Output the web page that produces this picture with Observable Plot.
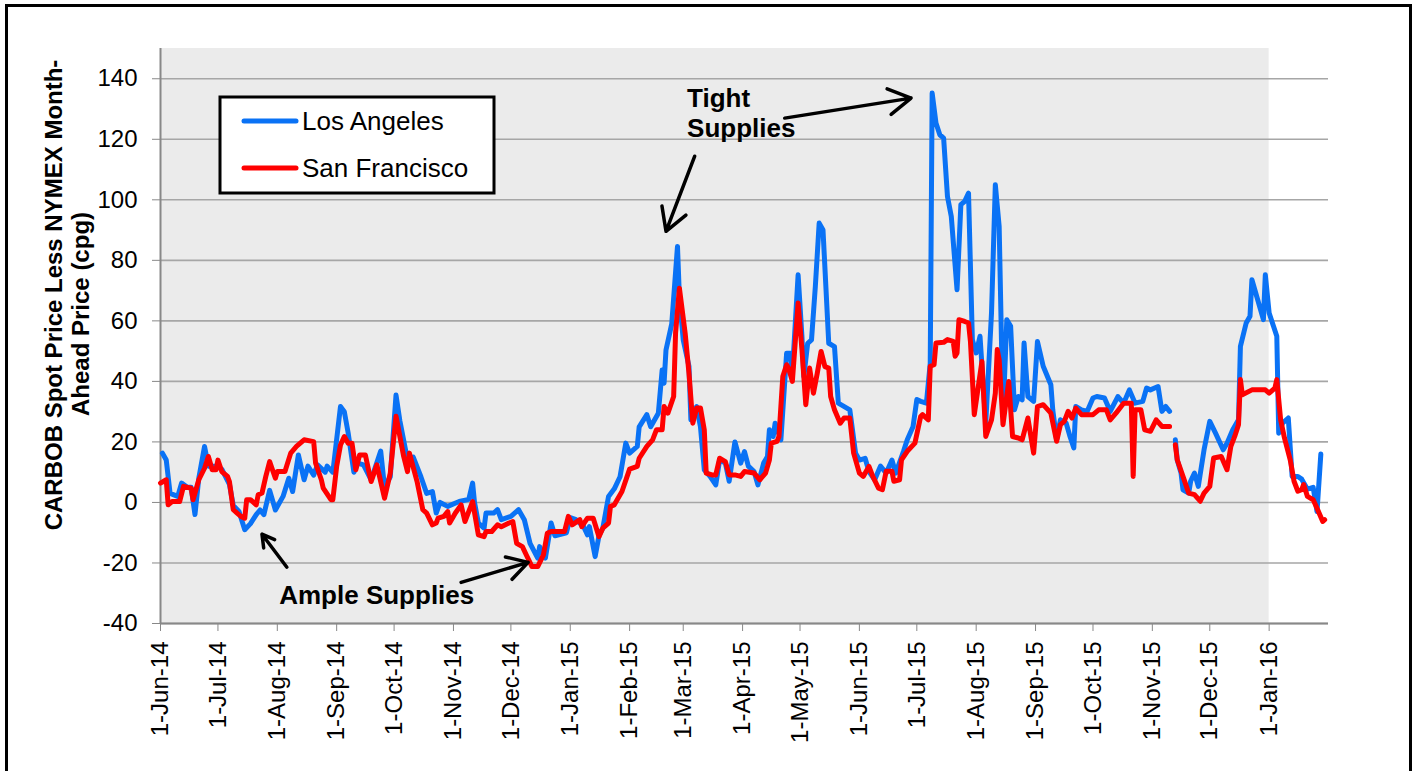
<!DOCTYPE html>
<html><head><meta charset="utf-8">
<script src="https://cdn.jsdelivr.net/npm/d3@7"></script>
<script src="https://cdn.jsdelivr.net/npm/@observablehq/plot@0.6"></script>
<style>
html,body{margin:0;padding:0;background:#fff;overflow:hidden;}
#wrap{position:relative;width:1416px;height:771px;overflow:hidden;font-family:"Liberation Sans",Arial,sans-serif;}
#frame{position:absolute;left:5px;top:4px;width:1407px;height:830px;border:3px solid #000;box-sizing:border-box;pointer-events:none;}
#chart{position:absolute;left:0;top:0;}
</style></head><body>
<div id="wrap"><div id="chart"></div><div id="frame"></div></div>
<script>
// ---- Data ----
const laDates = ["2014-06-02","2014-06-04","2014-06-06","2014-06-10","2014-06-12","2014-06-15","2014-06-17","2014-06-19","2014-06-21","2014-06-24","2014-06-26","2014-06-30","2014-07-03","2014-07-07","2014-07-09","2014-07-12","2014-07-15","2014-07-18","2014-07-21","2014-07-23","2014-07-25","2014-07-28","2014-07-31","2014-08-04","2014-08-07","2014-08-09","2014-08-12","2014-08-15","2014-08-17","2014-08-20","2014-08-22","2014-08-26","2014-08-27","2014-08-30","2014-09-03","2014-09-05","2014-09-07","2014-09-10","2014-09-12","2014-09-15","2014-09-19","2014-09-24","2014-09-26","2014-09-29","2014-10-02","2014-10-04","2014-10-08","2014-10-11","2014-10-15","2014-10-18","2014-10-21","2014-10-23","2014-10-25","2014-10-29","2014-11-04","2014-11-09","2014-11-11","2014-11-12","2014-11-14","2014-11-17","2014-11-18","2014-11-22","2014-11-24","2014-11-26","2014-12-01","2014-12-05","2014-12-08","2014-12-11","2014-12-15","2014-12-16","2014-12-19","2014-12-22","2014-12-24","2014-12-30","2015-01-01","2015-01-04","2015-01-08","2015-01-10","2015-01-11","2015-01-14","2015-01-16","2015-01-18","2015-01-21","2015-01-24","2015-01-27","2015-01-30","2015-02-01","2015-02-05","2015-02-06","2015-02-10","2015-02-12","2015-02-16","2015-02-18","2015-02-19","2015-02-20","2015-02-23","2015-02-26","2015-02-27","2015-03-01","2015-03-04","2015-03-05","2015-03-08","2015-03-10","2015-03-12","2015-03-15","2015-03-18","2015-03-20","2015-03-23","2015-03-25","2015-03-28","2015-03-31","2015-04-02","2015-04-04","2015-04-07","2015-04-09","2015-04-12","2015-04-14","2015-04-15","2015-04-17","2015-04-18","2015-04-21","2015-04-24","2015-04-26","2015-04-27","2015-04-30","2015-05-02","2015-05-03","2015-05-05","2015-05-07","2015-05-09","2015-05-11","2015-05-13","2015-05-16","2015-05-19","2015-05-21","2015-05-27","2015-05-30","2015-06-01","2015-06-04","2015-06-06","2015-06-09","2015-06-12","2015-06-15","2015-06-18","2015-06-20","2015-06-24","2015-06-26","2015-06-29","2015-07-01","2015-07-03","2015-07-06","2015-07-08","2015-07-09","2015-07-11","2015-07-13","2015-07-15","2015-07-17","2015-07-19","2015-07-22","2015-07-24","2015-07-26","2015-07-28","2015-07-30","2015-08-01","2015-08-03","2015-08-06","2015-08-09","2015-08-11","2015-08-13","2015-08-15","2015-08-17","2015-08-19","2015-08-21","2015-08-23","2015-08-25","2015-08-26","2015-08-28","2015-08-31","2015-09-02","2015-09-05","2015-09-09","2015-09-10","2015-09-12","2015-09-14","2015-09-17","2015-09-19","2015-09-21","2015-09-22","2015-09-25","2015-09-28","2015-10-01","2015-10-03","2015-10-07","2015-10-10","2015-10-14","2015-10-17","2015-10-20","2015-10-23","2015-10-27","2015-10-29","2015-10-31","2015-11-04","2015-11-06","2015-11-08","2015-11-10","2015-11-11","2015-11-13","2015-11-14","2015-11-16","2015-11-17","2015-11-20","2015-11-21","2015-11-23","2015-11-25","2015-11-28","2015-12-01","2015-12-04","2015-12-08","2015-12-10","2015-12-13","2015-12-16","2015-12-17","2015-12-20","2015-12-22","2015-12-23","2015-12-25","2015-12-29","2015-12-30","2016-01-01","2016-01-05","2016-01-06","2016-01-08","2016-01-11","2016-01-13","2016-01-16","2016-01-18","2016-01-21","2016-01-24","2016-01-26","2016-01-28","2016-01-29"];
const laValues = [16.3,14,3,2,6.4,5,5,-4,8,18.5,12,12,11,6,-1,-3,-9,-7,-4,-2.5,-4,4,-2.5,2,8,3.6,15.7,7.5,12,9,12.4,10,12,10,31.7,30,23,10,13,12.4,7.5,17,5,8.5,35.5,27,14,15,8.5,3,3.6,-3.5,0,-1.3,0.3,1,6.4,0,-6.8,-8.5,-3.5,-3.5,-2.4,-5.7,-4.6,-2.4,-5.7,-13.5,-18.4,-14.6,-18.4,-6.8,-11,-10,-5,-5.7,-8,-10.7,-8,-17.9,-11,-8.5,2,4.5,8.5,19.6,16.3,18.5,25,29,25,29.5,43.8,39.4,50.4,59,84.6,68,53.7,45,27.3,31.7,25,10.8,8.6,5.8,14,13,7,20,13,16.8,12,10.2,5.8,13,15.2,24,21.8,26.2,20.7,49.3,49.3,42.7,75.2,54.8,41.6,52.6,53.7,71.4,92.3,90,52.6,51.5,32.8,30.6,16.3,14,14.6,10.2,7.5,12,9.7,14,9.7,16.8,20.7,25,34,33.4,32.8,46,135.3,125.4,121.5,120.4,101.1,94.5,70.3,98.4,99.5,102.2,53.8,49.4,54.9,26.2,62.6,105,91.2,28.4,60.4,58.2,30.6,35,33.9,52.7,35,33.4,53.2,45,38.9,30.6,20.7,27.3,26.2,21.8,18,31.7,30.6,30.1,34.5,35,34.5,30.1,35,32.8,37.2,32.8,33.4,37.8,37.2,38.3,30.1,31.7,30.1,null,20.7,14,9.7,4.2,3.1,7,9.7,5.3,17.4,26.8,22.9,17.4,19.6,24,27.3,51.6,59.3,61.5,73.6,69.2,60.4,75.2,62.6,54.9,22.9,26.2,27.9,8.6,8.6,7.7,4.4,5,-3,16];

const sfDates = ["2014-06-01","2014-06-04","2014-06-05","2014-06-07","2014-06-11","2014-06-13","2014-06-17","2014-06-18","2014-06-21","2014-06-24","2014-06-26","2014-06-28","2014-06-30","2014-07-01","2014-07-03","2014-07-06","2014-07-07","2014-07-09","2014-07-11","2014-07-13","2014-07-15","2014-07-16","2014-07-18","2014-07-21","2014-07-22","2014-07-24","2014-07-26","2014-07-28","2014-07-31","2014-08-01","2014-08-05","2014-08-08","2014-08-11","2014-08-15","2014-08-20","2014-08-21","2014-08-24","2014-08-25","2014-08-29","2014-08-30","2014-09-01","2014-09-03","2014-09-05","2014-09-07","2014-09-09","2014-09-11","2014-09-13","2014-09-16","2014-09-18","2014-09-19","2014-09-22","2014-09-26","2014-09-29","2014-10-02","2014-10-06","2014-10-08","2014-10-09","2014-10-13","2014-10-16","2014-10-18","2014-10-21","2014-10-23","2014-10-24","2014-10-27","2014-10-29","2014-10-30","2014-11-02","2014-11-05","2014-11-07","2014-11-11","2014-11-14","2014-11-17","2014-11-18","2014-11-21","2014-11-24","2014-11-26","2014-11-30","2014-12-02","2014-12-04","2014-12-07","2014-12-09","2014-12-12","2014-12-15","2014-12-18","2014-12-20","2014-12-22","2014-12-29","2014-12-31","2015-01-02","2015-01-06","2015-01-07","2015-01-10","2015-01-13","2015-01-16","2015-01-18","2015-01-21","2015-01-22","2015-01-24","2015-01-28","2015-02-01","2015-02-05","2015-02-06","2015-02-10","2015-02-13","2015-02-15","2015-02-18","2015-02-19","2015-02-21","2015-02-24","2015-02-25","2015-02-27","2015-03-02","2015-03-04","2015-03-06","2015-03-08","2015-03-10","2015-03-12","2015-03-13","2015-03-16","2015-03-18","2015-03-20","2015-03-23","2015-03-25","2015-03-28","2015-03-31","2015-04-02","2015-04-07","2015-04-10","2015-04-13","2015-04-15","2015-04-16","2015-04-19","2015-04-20","2015-04-22","2015-04-24","2015-04-25","2015-04-27","2015-04-30","2015-05-02","2015-05-04","2015-05-06","2015-05-08","2015-05-10","2015-05-12","2015-05-14","2015-05-16","2015-05-17","2015-05-19","2015-05-22","2015-05-24","2015-05-27","2015-05-29","2015-06-01","2015-06-03","2015-06-06","2015-06-08","2015-06-11","2015-06-13","2015-06-15","2015-06-18","2015-06-19","2015-06-22","2015-06-23","2015-06-26","2015-06-30","2015-07-03","2015-07-04","2015-07-07","2015-07-08","2015-07-10","2015-07-11","2015-07-15","2015-07-17","2015-07-20","2015-07-21","2015-07-22","2015-07-23","2015-07-26","2015-07-28","2015-07-29","2015-07-31","2015-08-04","2015-08-06","2015-08-09","2015-08-11","2015-08-12","2015-08-13","2015-08-15","2015-08-18","2015-08-20","2015-08-23","2015-08-25","2015-08-28","2015-08-31","2015-09-02","2015-09-05","2015-09-09","2015-09-12","2015-09-14","2015-09-16","2015-09-18","2015-09-20","2015-09-22","2015-09-25","2015-10-01","2015-10-04","2015-10-08","2015-10-10","2015-10-13","2015-10-17","2015-10-21","2015-10-22","2015-10-23","2015-10-26","2015-10-28","2015-10-31","2015-11-03","2015-11-06","2015-11-10","2015-11-11","2015-11-13","2015-11-14","2015-11-17","2015-11-20","2015-11-23","2015-11-26","2015-11-28","2015-12-01","2015-12-03","2015-12-07","2015-12-10","2015-12-12","2015-12-14","2015-12-16","2015-12-17","2015-12-18","2015-12-23","2015-12-30","2016-01-01","2016-01-04","2016-01-05","2016-01-07","2016-01-09","2016-01-12","2016-01-14","2016-01-16","2016-01-18","2016-01-19","2016-01-21","2016-01-24","2016-01-26","2016-01-29","2016-01-30"];
const sfValues = [6.4,7.5,-0.8,0.3,0.3,5.3,4.7,0.9,7.5,11.3,15.2,10.8,10.8,14,10.2,8.6,6.9,-2.4,-3.5,-4.6,-5.2,0.9,0.9,-0.8,2.5,3.1,8.6,13.5,8,10.2,10.2,16.3,18.5,20.7,20.1,13,7.5,4.7,0.9,0.9,11.9,19,21.8,19.6,19.6,10.8,15.7,15.7,9.7,6.9,12.4,1.4,9.7,28.5,15.2,10.2,16.3,6.9,-2.4,-3.5,-7.4,-6.8,-5.2,-4.6,-3,-6.8,-3.5,-0.8,-6.3,0.3,-10.7,-11.3,-9.6,-9.6,-7.4,-8,-6.8,-6.3,-13.5,-14.6,-17.3,-21.2,-21.2,-17.3,-10.2,-9.6,-9.6,-4.6,-7.4,-5.7,-8,-5.2,-5.2,-11.3,-8.5,-6.8,-1.3,-0.8,3.6,11,11.9,14.6,18.5,20.7,24,24,31.7,29.5,35,56,70.8,56,42.7,26.2,31.2,31.2,24,9.7,9.1,9.1,14.6,13.5,9.1,9.1,8.6,10.2,9.7,7.5,9.7,14,19.6,20.2,21.8,41.6,45.5,44.4,40,65.9,50.4,32.3,44.4,36.1,42.7,49.9,44.9,44.4,35,30.6,26.2,27.9,27.9,16.3,9.7,8.6,11.9,8.6,4.7,4.2,10.3,10.3,7,7.5,14.1,16.9,19.6,28.4,29,27.3,45,45.5,52.7,52.9,53.8,53.2,48.3,49.4,60.4,59.8,59.3,53.2,29,46.6,21.8,27.3,36.1,50.5,47.2,25.7,40,21.8,21.3,20.7,27.9,16.3,31.7,32.3,29.5,20.2,25.7,26.8,30.1,27.9,31.2,29,29,30.6,30.6,27.3,29.5,32.8,32.8,8.6,30.6,30.6,24,23.5,27.3,25.1,25.1,null,19.1,14.1,8.6,3.1,2.6,0.4,3.1,5.3,14.7,15.2,10.8,18.5,21.8,25.7,40.6,35.6,37.2,37.2,36.1,37.8,40.6,27.3,21.3,14.1,7,3.7,4.2,5.9,2,0.9,-1.9,-6.3,-5.7];

const seriesNames = ["Los Angeles", "San Francisco"];
const seriesColors = ["#0a72f5", "#ff0000"];
const xTickLabels = ["1-Jun-14","1-Jul-14","1-Aug-14","1-Sep-14","1-Oct-14","1-Nov-14","1-Dec-14","1-Jan-15","1-Feb-15","1-Mar-15","1-Apr-15","1-May-15","1-Jun-15","1-Jul-15","1-Aug-15","1-Sep-15","1-Oct-15","1-Nov-15","1-Dec-15","1-Jan-16"];
const yTicks = [-40,-20,0,20,40,60,80,100,120,140];
const xDomain = ["2014-06-01","2016-02-01"];
const yDomain = [-40,150];
const shadedPeriod = [{start: "2014-06-01", end: "2016-01-01"}];
const yTitleLines = ["CARBOB Spot Price Less NYMEX Month-", "Ahead Price (cpg)"];
const notes = [
  {text: "Tight\nSupplies", date: "2015-03-03", value: 120.9},
  {text: "Ample Supplies", date: "2014-08-02", value: -33.6}
];
const arrows = [
  {d1: "2014-08-06", v1: -21.4, d2: "2014-07-24", v2: -10.5},
  {d1: "2014-11-05", v1: -26.4, d2: "2014-12-10", v2: -19.8},
  {d1: "2015-03-07", v1: 114.4, d2: "2015-02-20", v2: 89.6},
  {d1: "2015-04-23", v1: 127.0, d2: "2015-06-28", v2: 133.6}
];

// ---- Build ----
const P = d3.utcParse("%Y-%m-%d");
const parseTick = d3.utcParse("%d-%b-%y");
const la = laDates.map((d, i) => ({date: P(d), value: laValues[i]}));
const sf = sfDates.map((d, i) => ({date: P(d), value: sfValues[i]}));
const xTicks = xTickLabels.map(parseTick);
const shade = shadedPeriod.map(s => ({x1: P(s.start), x2: P(s.end)}));
const noteData = notes.map(n => ({...n, x: P(n.date)}));
const arrowData = arrows.map(a => ({x1: P(a.d1), y1: a.v1, x2: P(a.d2), y2: a.v2}));
const FONT = '"Liberation Sans", Arial, sans-serif';

const svg = Plot.plot({
  width: 1416, height: 771,
  marginTop: 48, marginLeft: 160, marginRight: 88, marginBottom: 148,
  style: {background: "transparent", fontFamily: FONT, color: "#000"},
  x: {type: "utc", domain: xDomain.map(P), label: null},
  y: {domain: yDomain, label: null},
  marks: [
    Plot.rect(shade, {x1: "x1", x2: "x2", fill: "#ebebeb"}),
    Plot.ruleY(yTicks, {stroke: "#a6a6a6", strokeWidth: 1.6}),
    Plot.ruleY([yDomain[0]], {stroke: "#888888", strokeWidth: 2}),
    Plot.ruleX([P(xDomain[0])], {stroke: "#888888", strokeWidth: 2}),
    Plot.line(la, {x: "date", y: "value", stroke: seriesColors[0], strokeWidth: 5, strokeLinejoin: "round", strokeLinecap: "round"}),
    Plot.line(sf, {x: "date", y: "value", stroke: seriesColors[1], strokeWidth: 5, strokeLinejoin: "round", strokeLinecap: "round"}),
    Plot.text(noteData, {x: "x", y: "value", text: "text", textAnchor: "start", lineAnchor: "bottom", lineHeight: 1.15, fontSize: 26, fontWeight: "bold", fill: "#000"}),
    Plot.arrow(arrowData, {x1: "x1", y1: "y1", x2: "x2", y2: "y2", stroke: "#000", strokeWidth: 3.5, headLength: 11, headAngle: 60, insetStart: 0, insetEnd: 0}),
    Plot.axisY({ticks: yTicks, tickFormat: d => `${d}`, tickSize: 8, tickPadding: 15, fontSize: 24, stroke: "#888888", fill: "#000", label: null}),
    Plot.axisX({ticks: xTicks, tickFormat: d3.utcFormat("%-d-%b-%y"), tickRotate: -90, tickSize: 8, tickPadding: 10, fontSize: 24, stroke: "#888888", fill: "#000", label: null})
  ]
});
document.getElementById("chart").appendChild(svg);

const s = d3.select(svg);
// Y-axis title (two lines, rotated)
const titleG = s.append("g").attr("font-family", FONT).attr("font-weight", "bold").attr("font-size", 24).attr("fill", "#000").attr("text-anchor", "middle");
titleG.append("text").attr("transform", "translate(61.5,295) rotate(-90)").text(yTitleLines[0]);
titleG.append("text").attr("transform", "translate(89,314) rotate(-90)").text(yTitleLines[1]);

// Legend box
const lg = s.append("g").attr("font-family", FONT).attr("font-size", 26).attr("text-anchor", "start");
lg.append("rect").attr("x", 220).attr("y", 97).attr("width", 274).attr("height", 96).attr("fill", "#fff").attr("stroke", "#000").attr("stroke-width", 3);
seriesNames.forEach((name, i) => {
  const y = 121 + i * 47;
  lg.append("line").attr("x1", 244).attr("x2", 296).attr("y1", y).attr("y2", y).attr("stroke", seriesColors[i]).attr("stroke-width", 5).attr("stroke-linecap", "round");
  lg.append("text").attr("x", 302).attr("y", y + 9).attr("text-anchor", "start").attr("fill", "#000").text(name);
});
</script></body></html>
